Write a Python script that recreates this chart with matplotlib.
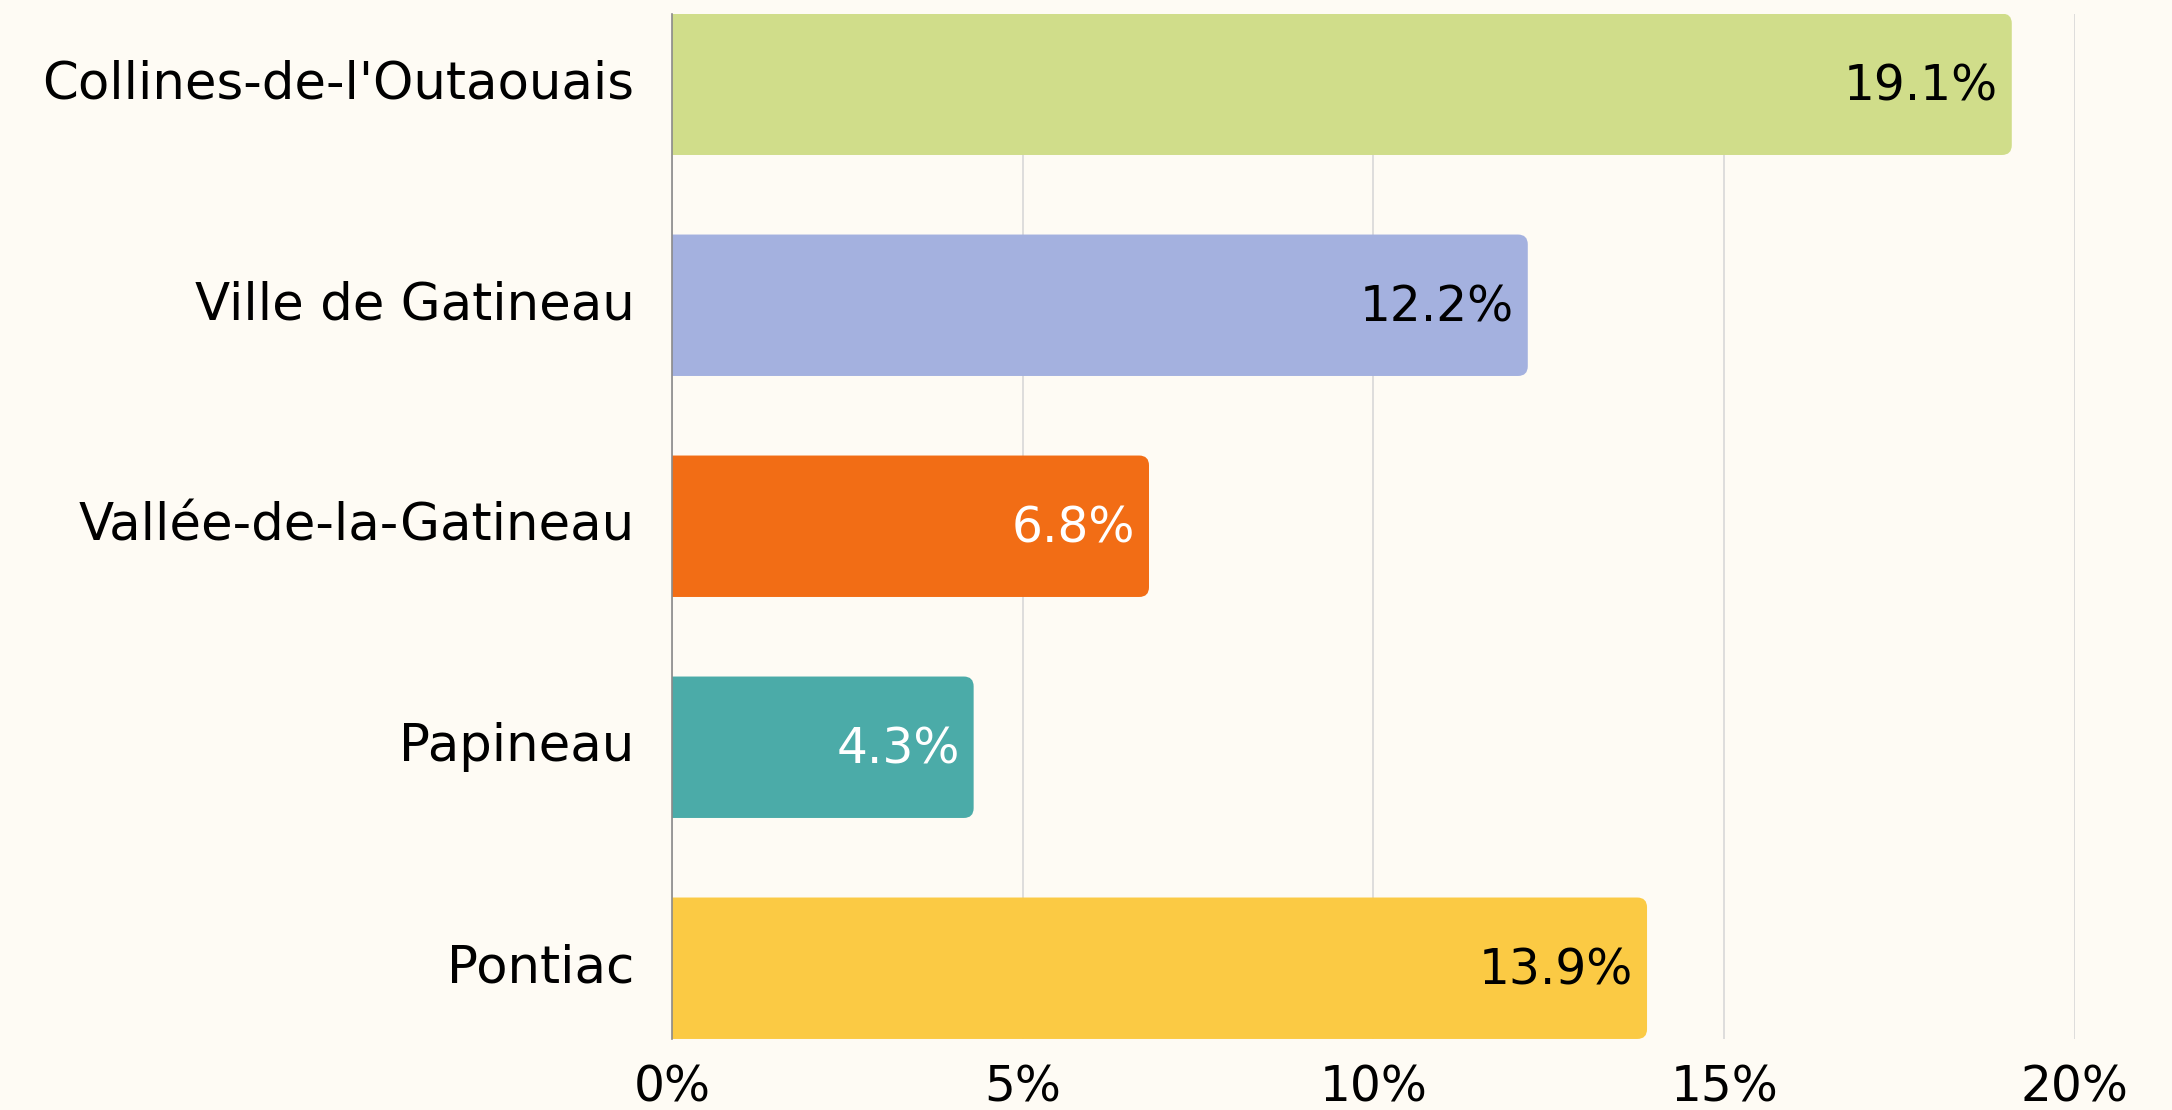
import numpy as np
import matplotlib.pyplot as plt
from matplotlib.patches import FancyBboxPatch

plt.rcParams['font.family'] = ['DejaVu Sans']

regions = ["Collines-de-l'Outaouais", "Ville de Gatineau", "Vallée-de-la-Gatineau",
           "Papineau", "Pontiac"]
shares = [19.1, 12.2, 6.8, 4.3, 13.9]
bar_colors = ["#D0DD8A", "#A4B1DF", "#F26D15", "#4BABA8", "#FBCA44"]
label_colors = ["black", "black", "white", "white", "black"]
xticks = [0, 5, 10, 15, 20]

bg = "#FEFBF4"
fig = plt.figure(figsize=(21.72, 11.1), dpi=100, facecolor=bg)
ax = fig.add_axes([0.3094, 0.064, 0.6459, 0.9238], facecolor=bg)

y = np.arange(len(regions))
bars = ax.barh(y, shares, height=0.64, color=bar_colors)

# swap the plain bars for ones with rounded ends (left end is clipped at 0)
for b, c in zip(bars, bar_colors):
    x0, y0 = b.get_xy()
    w, h = b.get_width(), b.get_height()
    b.set_visible(False)
    fb = FancyBboxPatch((x0 - 1, y0), w + 1, h,
                        boxstyle="round,pad=0,rounding_size=0.14",
                        mutation_aspect=0.317, facecolor=c, edgecolor="none",
                        zorder=2)
    ax.add_patch(fb)

for yi, v, tc in zip(y, shares, label_colors):
    ax.text(v - 0.2, yi + 0.01, f"{v}%", ha="right", va="center", fontsize=35,
            color=tc, zorder=3)

ax.set_xlim(0, 20)
ax.set_ylim(4.32, -0.32)
ax.set_xticks(xticks)
ax.set_xticklabels([f"{t}%" for t in xticks])
ax.set_yticks(y)
ax.set_yticklabels(regions, va="center")
ax.tick_params(axis="both", length=0)
ax.tick_params(axis="y", pad=27, labelsize=37)
ax.tick_params(axis="x", pad=18, labelsize=35)

ax.grid(axis="x", color="#d8d8d8", linewidth=1.2, zorder=0)
ax.set_axisbelow(True)
for s in ["top", "right", "bottom"]:
    ax.spines[s].set_visible(False)
ax.spines["left"].set_color("#8a8a8a")
ax.spines["left"].set_linewidth(1.2)
ax.spines["left"].set_zorder(4)

fig.savefig("out.png", dpi=100, facecolor=bg)
